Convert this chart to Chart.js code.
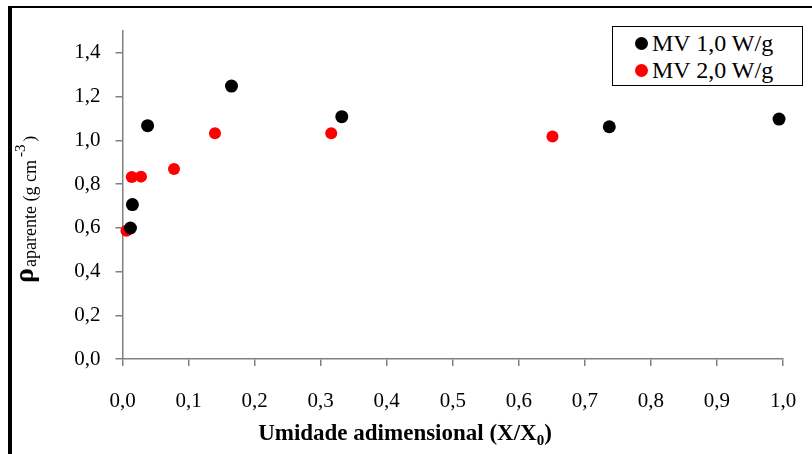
<!DOCTYPE html>
<html>
<head>
<meta charset="utf-8">
<script src="https://cdn.jsdelivr.net/npm/chart.js@4/dist/chart.umd.min.js"></script>
<style>
  body { margin: 0; background: #fff; }
  #wrap { position: relative; width: 812px; height: 454px; overflow: hidden; }
  #frame { position: absolute; left: 8px; top: 6px; width: 900px; height: 600px;
           border-top: 2px solid #000; border-left: 4px solid #000; pointer-events: none; }
  #legend { position: absolute; left: 612px; top: 26px; width: 189px; height: 58px;
            border: 1.5px solid #000; background: #fff;
            font-family: "Liberation Serif", "Times New Roman", serif; font-size: 24px; }
  #legend div { position: absolute; left: 22px; white-space: nowrap; line-height: 24px; }
  #legend span { display: inline-block; width: 13px; height: 13px; border-radius: 50%;
                 margin-right: 4px; vertical-align: 1px; }
</style>
</head>
<body>
<div id="wrap">
  <canvas id="densityChart" width="812" height="454"></canvas>
  <div id="frame"></div>
  <div id="legend">
    <div style="top:4px"><span style="background:#000"></span>MV 1,0 W/g</div>
    <div style="top:31px"><span style="background:#ff0000"></span>MV 2,0 W/g</div>
  </div>
</div>
<script>
// Data
const mv1X = [0.012, 0.015, 0.038, 0.165, 0.332, 0.737, 0.994];
const mv1Y = [0.599, 0.706, 1.067, 1.248, 1.108, 1.062, 1.097];
const mv2X = [0.006, 0.014, 0.028, 0.078, 0.140, 0.316, 0.651];
const mv2Y = [0.587, 0.832, 0.834, 0.869, 1.032, 1.032, 1.018];

const xTicks = [0, 0.1, 0.2, 0.3, 0.4, 0.5, 0.6, 0.7, 0.8, 0.9, 1.0];
const xTickLabels = ['0,0', '0,1', '0,2', '0,3', '0,4', '0,5', '0,6', '0,7', '0,8', '0,9', '1,0'];
const yTicks = [0, 0.2, 0.4, 0.6, 0.8, 1.0, 1.2, 1.4];
const yTickLabels = ['0,0', '0,2', '0,4', '0,6', '0,8', '1,0', '1,2', '1,4'];

const serif = '"Liberation Serif", "Times New Roman", serif';

function toPoints(xs, ys) {
  return xs.map((x, i) => ({ x: x, y: ys[i] }));
}

// Axis titles with sub/superscripts
const axisTitles = {
  id: 'axisTitles',
  afterDraw(chart) {
    const ctx = chart.ctx;
    ctx.save();
    ctx.fillStyle = '#000';
    ctx.textBaseline = 'alphabetic';
    ctx.textAlign = 'left';

    // x title
    const main = 'Umidade adimensional (X/X';
    ctx.font = 'bold 23px ' + serif;
    const w1 = ctx.measureText(main).width;
    ctx.font = 'bold 15px ' + serif;
    const w2 = ctx.measureText('0').width;
    ctx.font = 'bold 23px ' + serif;
    const w3 = ctx.measureText(')').width;
    let x = 405 - (w1 + w2 + w3) / 2;
    const base = 440;
    ctx.fillText(main, x, base);
    x += w1;
    ctx.font = 'bold 15px ' + serif;
    ctx.fillText('0', x, base + 5);
    x += w2;
    ctx.font = 'bold 23px ' + serif;
    ctx.fillText(')', x, base);

    // y title, rotated
    ctx.translate(33, 283);
    ctx.rotate(-Math.PI / 2);
    let p = 0;
    ctx.font = 'bold 28px ' + serif;
    ctx.fillText('\u03c1', p, 0);
    p += ctx.measureText('\u03c1').width + 1;
    ctx.font = '18px ' + serif;
    ctx.fillText('aparente (g cm', p, 3);
    p += ctx.measureText('aparente (g cm').width + 3;
    ctx.font = '15px ' + serif;
    ctx.fillText('-3', p, -8);
    p += ctx.measureText('-3').width + 3;
    ctx.font = '17px ' + serif;
    ctx.fillText(')', p, 2);
    ctx.restore();
  }
};

new Chart(document.getElementById('densityChart'), {
  type: 'scatter',
  data: {
    datasets: [
      {
        label: 'MV 1,0 W/g',
        data: toPoints(mv1X, mv1Y),
        backgroundColor: '#000000',
        borderWidth: 0,
        pointRadius: 6.5,
        clip: false
      },
      {
        label: 'MV 2,0 W/g',
        data: toPoints(mv2X, mv2Y),
        backgroundColor: '#ff0000',
        borderWidth: 0,
        pointRadius: 6,
        clip: false
      }
    ]
  },
  options: {
    responsive: false,
    animation: false,
    layout: { padding: { top: 31, right: 29, left: 0, bottom: 0 } },
    plugins: {
      legend: { display: false },
      tooltip: { enabled: false }
    },
    scales: {
      x: {
        type: 'linear',
        min: 0,
        max: 1,
        afterFit: function(scale) {
          scale.height = 95;
          scale.paddingLeft = 0;
          scale.paddingRight = 0;
        },
        afterBuildTicks: function(scale) {
          scale.ticks = xTicks.map(v => ({ value: v }));
        },
        ticks: {
          padding: 23,
          color: '#000',
          font: { size: 21, family: serif },
          callback: function(value, index) { return xTickLabels[index]; }
        },
        grid: { drawOnChartArea: false, drawTicks: true, tickLength: 7, color: '#808080', lineWidth: 1.5 },
        border: { display: true, color: '#808080', width: 1.5 }
      },
      y: {
        type: 'linear',
        min: 0,
        max: 1.5,
        afterFit: function(scale) {
          scale.width = 122.5;
          scale.paddingTop = 0;
          scale.paddingBottom = 0;
        },
        afterBuildTicks: function(scale) {
          scale.ticks = yTicks.map(v => ({ value: v }));
        },
        ticks: {
          padding: 15,
          color: '#000',
          font: { size: 21, family: serif },
          callback: function(value, index) { return yTickLabels[index]; }
        },
        grid: { drawOnChartArea: false, drawTicks: true, tickLength: 7, color: '#808080', lineWidth: 1.5 },
        border: { display: true, color: '#808080', width: 1.5 }
      }
    }
  },
  plugins: [axisTitles]
});
</script>
</body>
</html>
